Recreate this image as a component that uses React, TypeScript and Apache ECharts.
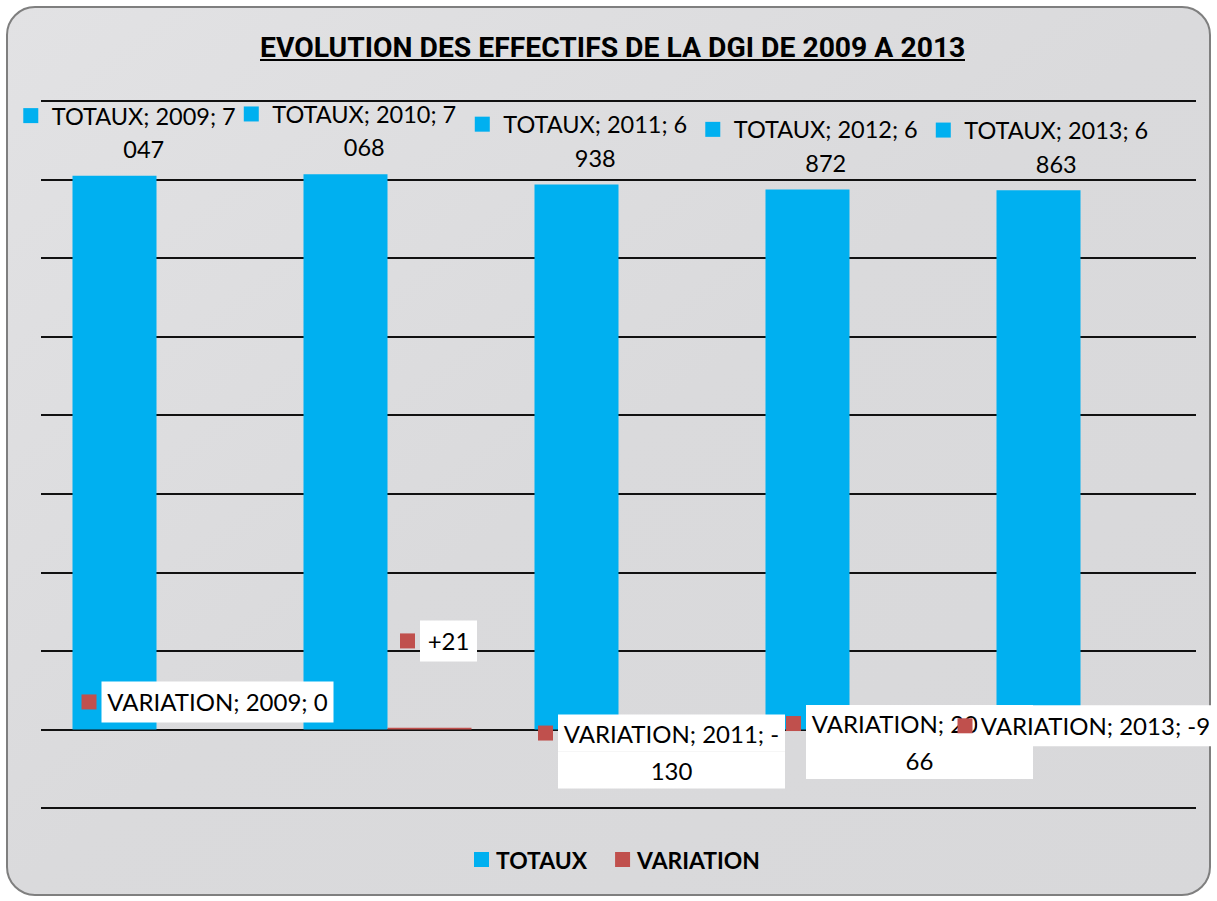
import React, { useEffect, useRef } from "react";
import * as echarts from "echarts";

// ---- data ----
const categories = ["2009", "2010", "2011", "2012", "2013"];
const totaux = [7047, 7068, 6938, 6872, 6863];
const variation = [0, 21, -130, -66, -9];
const seriesNames = ["TOTAUX", "VARIATION"];
const yMin = -1000;
const yMax = 8000;
const yInterval = 1000;
const titleText = "EVOLUTION DES EFFECTIFS DE LA DGI DE 2009 A 2013";
// label modes as edited in the source: "full" = series; category; value, "short" = signed value only
const variationLabelMode = ["full", "short", "full", "full", "full"];
const variationLabelWrap = [false, false, true, true, false];

// ---- styles / layout ----
const BLUE = "#00B0F0";
const RED = "#C0504D";
const FONT = "Lato";
const TITLE_FONT = "Roboto";
const totLabelOffset = [[15, 0], [4.5, 0], [4.5, 0], [4, 0], [3.5, 0]];
const varLabelOffset = [[9, -27.5], [9, -87.7], [1, 17], [18, 10], [-37, -4]];
const varBoxWidth = [232, 57, 227, 227, 236];

function fmtThousands(v: number): [string, string] {
  const th = Math.floor(v / 1000);
  const rest = String(v % 1000).padStart(3, "0");
  return [String(th), rest];
}

function fitSize(text: string, family: string, weight: string, target: number): number {
  const c = document.createElement("canvas");
  const ctx = c.getContext("2d");
  if (!ctx) return 20;
  ctx.font = `${weight} 100px ${family}`;
  const w = ctx.measureText(text).width;
  return Math.round((100 * target / w) * 10) / 10;
}

export default function App() {
  const ref = useRef<HTMLDivElement>(null);
  useEffect(() => {
    if (!ref.current) return;
    const chart = echarts.init(ref.current, undefined, { renderer: "svg" });
    const titleW = 705;
    const titleSize = fitSize(titleText, TITLE_FONT, "bold", titleW);
    const labelSize = fitSize("TOTAUX; 2009; 7", FONT, "normal", 184);
    const varSize = fitSize("VARIATION; 2009; 0", FONT, "normal", 220);
    const legendSize = fitSize("TOTAUX", FONT, "bold", 91);
    const cx = 612.5;

    const varRich: any = {
      sq: { width: 15, height: 15, backgroundColor: RED },
      g: { width: 5 },
      pad: { width: 20 },
    };
    varBoxWidth.forEach((w, i) => {
      const lh = variationLabelWrap[i] ? 37 : 41;
      varRich["b" + i] = {
        width: w,
        height: lh,
        lineHeight: lh,
        backgroundColor: "#ffffff",
        align: "center",
        fontSize: varSize,
        fontFamily: FONT,
        color: "#000",
      };
    });

    const option: any = {
      animation: false,
      backgroundColor: "#ffffff",
      title: {
        text: titleText,
        left: cx - titleW / 2 - 5,
        top: 27,
        textStyle: { fontFamily: TITLE_FONT, fontSize: titleSize, fontWeight: "bold", color: "#000", lineHeight: 30 },
      },
      graphic: [
        {
          type: "rect",
          z: -10,
          shape: { x: 7, y: 7, width: 1203, height: 888, r: 28 },
          style: {
            fill: new echarts.graphic.LinearGradient(0, 0, 1, 1, [
              { offset: 0, color: "#e2e2e4" },
              { offset: 0.5, color: "#dadadc" },
              { offset: 1, color: "#d8d8da" },
            ]),
            stroke: "#7f7f7f",
            lineWidth: 2,
          },
        },
        {
          type: "rect",
          shape: { x: cx - titleW / 2, y: 59, width: titleW, height: 2 },
          style: { fill: "#000" },
        },
      ],
      legend: {
        data: seriesNames,
        left: 469,
        top: 842.5,
        icon: "rect",
        itemWidth: 15,
        itemHeight: 15,
        itemGap: 28,
        textStyle: {
          fontFamily: FONT,
          fontSize: legendSize,
          fontWeight: "bold",
          color: "#000",
          lineHeight: 24,
          padding: [0, 0, 0, 2],
        },
      },
      grid: { left: 41, right: 21, top: 101, bottom: 93, containLabel: false },
      xAxis: {
        type: "category",
        data: categories,
        axisLine: { show: false },
        axisTick: { show: false },
        axisLabel: { show: false },
      },
      yAxis: {
        type: "value",
        min: yMin,
        max: yMax,
        interval: yInterval,
        axisLine: { show: false },
        axisTick: { show: false },
        axisLabel: { show: false },
        splitLine: { show: true, lineStyle: { color: "#111", width: 2 } },
      },
      series: [
        {
          name: seriesNames[0],
          type: "bar",
          barWidth: 84,
          barGap: "0%",
          itemStyle: { color: BLUE },
          data: totaux.map((v, i) => ({ value: v, label: { offset: totLabelOffset[i] } })),
          label: {
            show: true,
            position: "top",
            distance: 10,
            formatter: (p: any) => {
              const [a, b] = fmtThousands(p.value);
              return `{sq|}{g|}{t|${p.seriesName}; ${p.name}; ${a}}\n{pad|}{t|${b}}`;
            },
            rich: {
              sq: { width: 15, height: 15, backgroundColor: BLUE },
              g: { width: 13.5 },
              pad: { width: 28.5 },
              t: { fontSize: labelSize, fontFamily: FONT, color: "#000", lineHeight: 33.5 },
            },
          },
          z: 2,
        },
        {
          name: seriesNames[1],
          type: "bar",
          barWidth: 84,
          barGap: "0%",
          itemStyle: { color: RED },
          data: variation.map((v, i) => ({ value: v, label: { offset: varLabelOffset[i] } })),
          label: {
            show: true,
            position: "inside",
            formatter: (p: any) => {
              const i = p.dataIndex;
              const v = p.value as number;
              const b = "b" + i;
              if (variationLabelMode[i] === "short") {
                return `{sq|}{g|}{${b}|${v > 0 ? "+" : ""}${v}}`;
              }
              if (variationLabelWrap[i]) {
                const sign = v < 0 ? "-" : "";
                return `{sq|}{g|}{${b}|${p.seriesName}; ${p.name}; ${sign}}\n{pad|}{${b}|${Math.abs(v)}}`;
              }
              return `{sq|}{g|}{${b}|${p.seriesName}; ${p.name}; ${v}}`;
            },
            rich: varRich,
          },
          z: 3,
        },
      ],
    };
    chart.setOption(option);
    return () => chart.dispose();
  }, []);
  return (
    <div
      ref={ref}
      style={{ position: "fixed", left: 0, top: 0, width: 1217, height: 901 }}
    />
  );
}
